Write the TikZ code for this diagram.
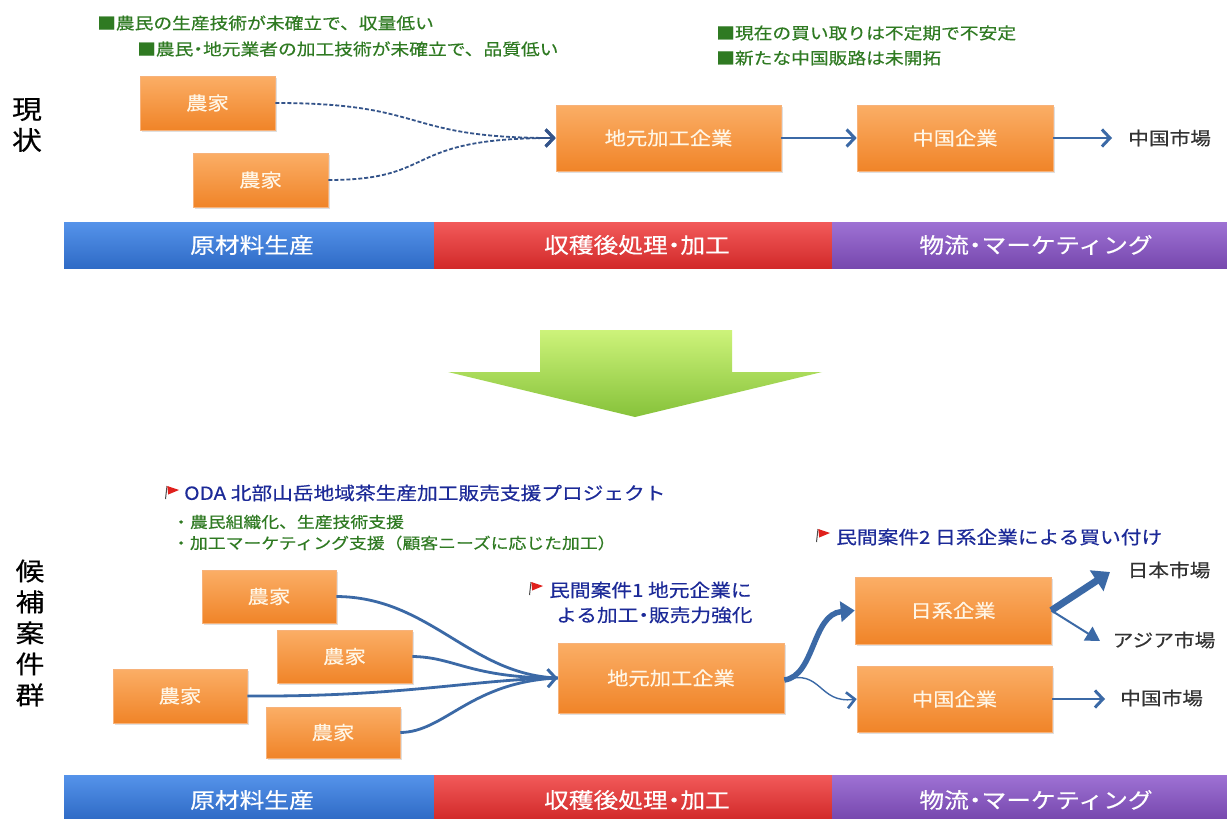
\documentclass[tikz,border=0pt]{standalone}
\usepackage{fontspec}
\setmainfont{Noto Sans CJK JP}[FakeStretch=1.15,FakeBold=0.4]
\usetikzlibrary{arrows.meta,shadows}
\definecolor{orT}{HTML}{FBAE66}
\definecolor{orB}{HTML}{F08428}
\definecolor{orD}{HTML}{F7B27A}
\definecolor{boxtxt}{HTML}{FFF6E6}
\definecolor{gtxt}{HTML}{2F7A22}
\definecolor{btxt}{HTML}{1C2A98}
\definecolor{arr}{HTML}{3B69A6}
\definecolor{dsh}{HTML}{34548A}
\definecolor{mk}{HTML}{333333}
\definecolor{blT}{HTML}{5593EA}
\definecolor{blB}{HTML}{2F6BC6}
\definecolor{rdT}{HTML}{F25A5A}
\definecolor{rdB}{HTML}{D22A2A}
\definecolor{puT}{HTML}{9E72D4}
\definecolor{puB}{HTML}{7748AE}
\definecolor{gaT}{HTML}{CDF37A}
\definecolor{gaB}{HTML}{86C23A}
\definecolor{flagred}{HTML}{E0201C}
\newcommand{\nd}{\kern-0.28em・\kern-0.28em}
\tikzset{
  box/.style={draw=orD, line width=0.6pt, top color=orT, bottom color=orB, text=boxtxt,
    font=\fontsize{18.5}{18.5}\selectfont, inner sep=0pt,
    drop shadow={shadow xshift=1.5pt,shadow yshift=-2pt,opacity=0.25}},
  gtext/.style={text=gtxt, anchor=west, inner sep=0pt, font=\fontsize{16.3}{16.3}\selectfont},
  btext/.style={text=btxt, anchor=west, inner sep=0pt, font=\fontsize{18}{18}\selectfont},
  mtext/.style={text=mk, inner sep=0pt, font=\fontsize{18}{18}\selectfont},
  bartext/.style={text=white, inner sep=0pt, font=\fontsize{21.5}{21.5}\selectfont},
  vlabel/.style={text=black, inner sep=0pt, align=center},
  conn/.style={draw=arr, line width=1.8pt, -{Straight Barb[length=8pt,width=17pt,line width=3pt]}},
  dconn/.style={draw=dsh, line width=1.8pt, dash pattern=on 4pt off 2pt,
    -{Straight Barb[length=8pt,width=17pt,line width=3pt]}},
  fconn/.style={draw=arr, line width=2.8pt},
  redflag/.pic={\draw[line width=1pt, black!70] (1,0) -- (-0.5,13);
    \fill[flagred] (1.3,0) -- (13,4) -- (2.2,8.5) -- cycle;}
}
\begin{document}
\begin{tikzpicture}[x=1pt,y=-1pt]
\useasboundingbox (0,0) rectangle (1227,819);
\fill[white] (0,0) rectangle (1227,819);

% ---------- top section ----------
\node[vlabel, font=\fontsize{26}{31}\selectfont] (gj) at (27,125) {現\\状};

\node[gtext] (g1) at (97,23) {■農民の生産技術が未確立で、収量低い};
\node[gtext] (g2) at (137,49) {■農民\nd 地元業者の加工技術が未確立で、品質低い};
\node[gtext] (g3) at (716,33) {■現在の買い取りは不定期で不安定};
\node[gtext] (g4) at (716,58) {■新たな中国販路は未開拓};

\node[box, minimum width=135pt, minimum height=54pt] (f1) at (207.5,103) {農家};
\node[box, minimum width=135pt, minimum height=54pt] (f2) at (260.5,180) {農家};
\node[box, minimum width=225pt, minimum height=66pt] (jm1) at (668.5,138) {地元加工企業};
\node[box, minimum width=196pt, minimum height=66pt] (cn1) at (955,138) {中国企業};
\node[mtext, anchor=west] (cm1) at (1128,138) {中国市場};
\coordinate (cm1t) at (1112,138);

\draw[dconn] (f1.east) .. controls (430,103) and (400,138) .. (jm1.west);
\draw[dconn] (f2.east) .. controls (440,180) and (400,138) .. (jm1.west);
\draw[conn] (jm1.east) -- (cn1.west);
\draw[conn] (cn1.east) -- (cm1t);

% bars top
\shade[top color=blT, bottom color=blB] (64,222) rectangle (434,268);
\shade[top color=rdT, bottom color=rdB] (434,222) rectangle (832,268);
\shade[top color=puT, bottom color=puB] (832,222) rectangle (1227,268);
\node[bartext] (b1) at (252,245) {原材料生産};
\node[bartext] (b2) at (637,245) {収穫後処理\nd 加工};
\node[bartext] (b3) at (1036,245) {物流\nd マーケティング};

% green arrow
\shade[top color=gaT, bottom color=gaB] (540,330) -- (732,330) -- (732,372) -- (822,372)
  -- (635,417) -- (448,372) -- (540,372) -- cycle;

% ---------- bottom section ----------
\node[vlabel, font=\fontsize{25}{31}\selectfont] (kh) at (30,633) {候\\補\\案\\件\\群};

\pic at (166,486) {redflag};
\node[btext] (oda) at (184,493) {ODA 北部山岳地域茶生産加工販売支援プロジェクト};
\node[gtext, font=\fontsize{15.5}{15.5}\selectfont] (o1) at (172,522) {・農民組織化、生産技術支援};
\node[gtext, font=\fontsize{15.5}{15.5}\selectfont] (o2) at (172,543) {・加工マーケティング支援（顧客ニーズに応じた加工）};

\pic at (530,582) {redflag};
\node[btext] (p1a) at (549,590) {民間案件1 地元企業に};
\node[btext] (p1b) at (556,615) {よる加工\nd 販売力強化};

\pic at (817,529) {redflag};
\node[btext] (p2) at (836,537) {民間案件2 日系企業による買い付け};

\node[box, minimum width=134pt, minimum height=53pt] (fa) at (269,596.5) {農家};
\node[box, minimum width=135pt, minimum height=53pt] (fb) at (344.5,656.5) {農家};
\node[box, minimum width=134pt, minimum height=54pt] (fc) at (180,696) {農家};
\node[box, minimum width=134pt, minimum height=51pt] (fd) at (333,732.5) {農家};
\node[box, minimum width=226pt, minimum height=70pt] (jm2) at (671,678) {地元加工企業};
\node[box, minimum width=196pt, minimum height=67pt] (jp) at (953,610.5) {日系企業};
\node[box, minimum width=195pt, minimum height=66pt] (cn2) at (954.5,699) {中国企業};

\node[mtext] (jpm) at (1169,570) {日本市場};
\node[mtext] (asm) at (1164,640) {アジア市場};
\node[mtext, anchor=west] (cm2) at (1120,698) {中国市場};
\coordinate (jpt) at (1110,572);
\coordinate (ast) at (1100,641);
\coordinate (cm2t) at (1105,699);

\draw[fconn] (fa.east) .. controls (430,597) and (470,675) .. (jm2.west);
\draw[fconn] (fb.east) .. controls (455,657) and (470,678) .. (jm2.west);
\draw[fconn] (fd.east) .. controls (445,732) and (470,682) .. (jm2.west);
\draw[fconn, -{Straight Barb[length=8pt,width=18pt,line width=3pt]}] (fc.east) .. controls (400,697) and (470,680) .. (jm2.west);

\draw[draw=arr, line width=5.5pt, -{Triangle[length=14pt,width=20pt]}]
  ([yshift=-2pt]jm2.east) .. controls (815,676) and (812,614) .. (jp.west);
\draw[draw=arr, line width=1.4pt, -{Straight Barb[length=8pt,width=16pt,line width=2.6pt]}]
  ([yshift=-2pt]jm2.east) .. controls (822,668) and (818,704) .. (cn2.west);

\draw[draw=arr, line width=7pt, -{Triangle[length=16pt,width=24pt]}] (jp.east) -- (jpt);
\draw[draw=arr, line width=2pt, -{Triangle[length=14pt,width=16pt]}] (jp.east) -- (ast);
\draw[draw=arr, line width=1.8pt, -{Straight Barb[length=8pt,width=17pt,line width=3pt]}] (cn2.east) -- (cm2t);

% bars bottom
\shade[top color=blT, bottom color=blB] (64,775) rectangle (434,819);
\shade[top color=rdT, bottom color=rdB] (434,775) rectangle (832,819);
\shade[top color=puT, bottom color=puB] (832,775) rectangle (1227,819);
\node[bartext] (c1) at (252,800) {原材料生産};
\node[bartext] (c2) at (637,800) {収穫後処理\nd 加工};
\node[bartext] (c3) at (1036,800) {物流\nd マーケティング};
\end{tikzpicture}
\end{document}
